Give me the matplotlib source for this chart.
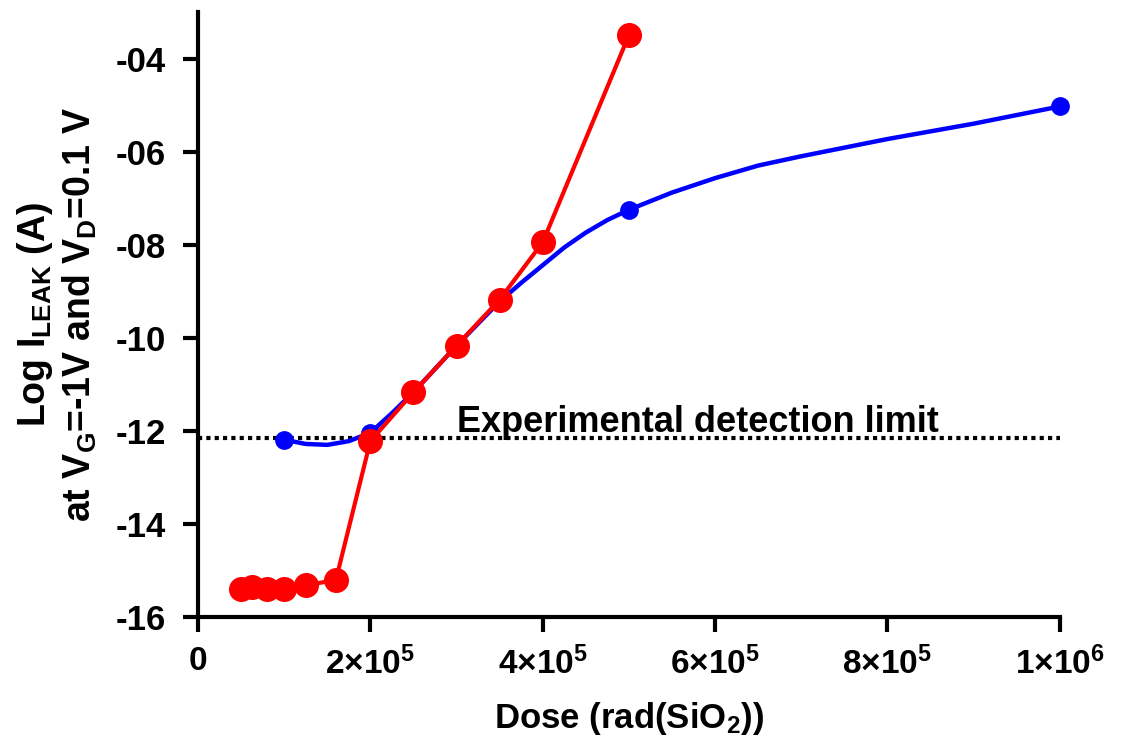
import matplotlib.pyplot as plt

plt.rcParams['font.family'] = ['Liberation Sans', 'DejaVu Sans']
plt.rcParams['font.weight'] = 'bold'
plt.rcParams['mathtext.fontset'] = 'custom'
plt.rcParams['mathtext.rm'] = 'Liberation Sans:bold'
plt.rcParams['mathtext.bf'] = 'Liberation Sans:bold'
plt.rcParams['mathtext.it'] = 'Liberation Sans:bold'

# Red series: measured leakage (markers joined by segments)
red_dose = [5.0e4, 6.3e4, 8.0e4, 1.0e5, 1.25e5, 1.6e5, 2.0e5, 2.5e5, 3.0e5, 3.5e5, 4.0e5, 5.0e5]
red_leak = [-15.40, -15.36, -15.40, -15.39, -15.32, -15.20, -12.22, -11.17, -10.17, -9.18, -7.95, -3.50]

# Blue series: smooth curve, plus its marked points
blue_curve_dose = [1.0e5, 1.25e5, 1.5e5, 1.75e5, 2.0e5, 2.25e5, 2.5e5, 3.0e5, 3.5e5, 3.75e5, 4.0e5,
                   4.25e5, 4.5e5, 4.75e5, 5.0e5, 5.5e5, 6.0e5, 6.5e5, 7.0e5, 8.0e5, 9.0e5, 1.0e6]
blue_curve_leak = [-12.19, -12.28, -12.30, -12.22, -12.04, -11.62, -11.17, -10.17, -9.22, -8.82, -8.44,
                   -8.06, -7.74, -7.47, -7.25, -6.88, -6.57, -6.30, -6.10, -5.73, -5.40, -5.03]
blue_dose = [1.0e5, 2.0e5, 5.0e5, 1.0e6]
blue_leak = [-12.19, -12.04, -7.25, -5.03]

detection_limit = -12.15

x_ticks = [0, 2e5, 4e5, 6e5, 8e5, 1e6]
x_labels = ['0', r'2$\times$10$^{5}$', r'4$\times$10$^{5}$', r'6$\times$10$^{5}$',
            r'8$\times$10$^{5}$', r'1$\times$10$^{6}$']
y_ticks = [-16, -14, -12, -10, -8, -6, -4]
y_labels = ['-16', '-14', '-12', '-10', '-08', '-06', '-04']

fig = plt.figure(figsize=(11.25, 7.48), dpi=100)
ax = fig.add_axes([0.176, 0.175, 0.766, 0.809])

ax.plot([0, 1e6], [detection_limit, detection_limit], color='black', linestyle=(0, (1, 1)),
        linewidth=3, zorder=1)
ax.plot(blue_curve_dose, blue_curve_leak, color='#0000ff', linewidth=3.2, zorder=2)
ax.plot(blue_dose, blue_leak, 'o', color='#0000ff', markersize=12.5, zorder=3, clip_on=False)
ax.plot(red_dose, red_leak, '-o', color='#ff0000', linewidth=3, markersize=17, zorder=4,
        clip_on=False)

ax.text(3.0e5, -12.02, 'Experimental detection limit', fontsize=26, fontweight='bold',
        va='baseline', ha='left')

ax.set_xlim(0, 1e6)
ax.set_ylim(-16, -3)
ax.set_xticks(x_ticks)
ax.set_xticklabels(x_labels)
ax.set_yticks(y_ticks)
ax.set_yticklabels(y_labels)
ax.tick_params(axis='both', direction='out', length=11, width=3)
ax.tick_params(axis='x', pad=10, labelsize=24)
ax.tick_params(axis='y', pad=12, labelsize=25)

for side in ['top', 'right']:
    ax.spines[side].set_visible(False)
for side in ['left', 'bottom']:
    ax.spines[side].set_linewidth(3)

ax.set_xlabel(r'Dose (rad(SiO$_{2}$))', fontsize=25, fontweight='bold', labelpad=14)
ax.set_ylabel('Log I$_{\\rm LEAK}$ (A)\nat V$_{\\rm G}$=-1V and V$_{\\rm D}$=0.1 V',
              fontsize=27, fontweight='bold', labelpad=12, linespacing=1.2)

fig.savefig('out.png', dpi=100)
